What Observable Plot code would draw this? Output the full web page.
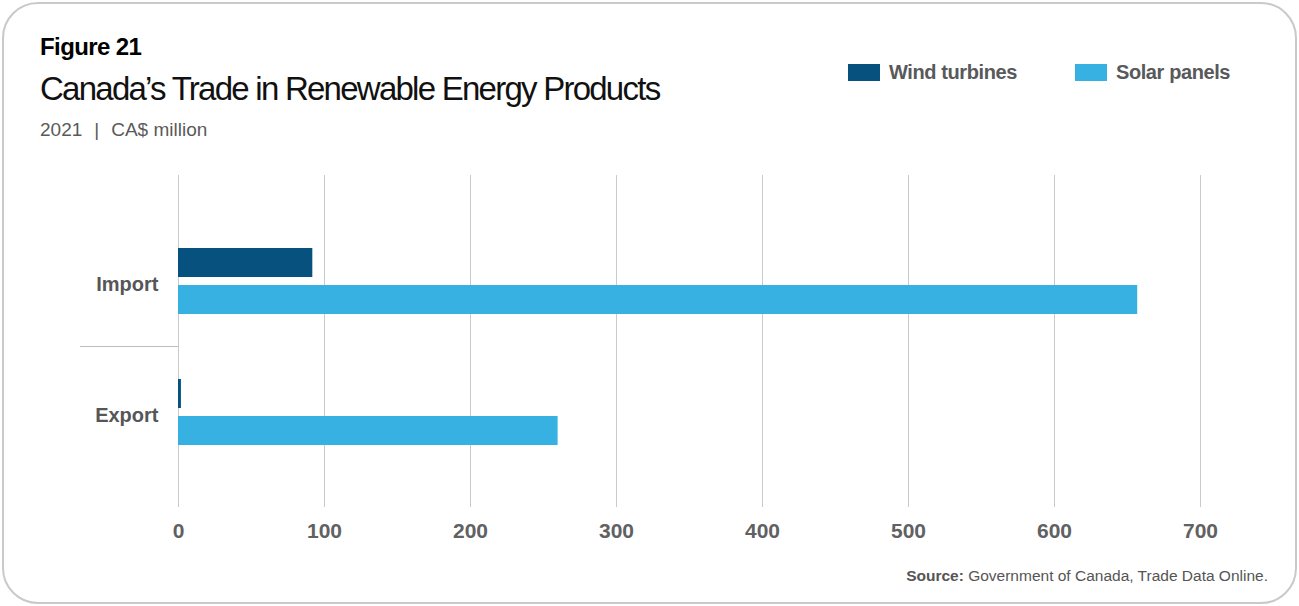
<!DOCTYPE html>
<html>
<head>
<meta charset="utf-8">
<script src="https://cdn.jsdelivr.net/npm/d3@7"></script>
<script src="https://cdn.jsdelivr.net/npm/@observablehq/plot@0.6"></script>
<style>
  body { margin: 0; background: #fff; font-family: "Liberation Sans", Arial, sans-serif; }
  #card { position: relative; width: 1299px; height: 606px; overflow: hidden; }
  #card .frame { position: absolute; left: 2px; top: 2px; right: 2px; bottom: 2px;
    border: 2px solid #c9c9c9; border-radius: 36px; box-sizing: border-box; }
  .hd { position: absolute; left: 40px; white-space: nowrap; line-height: 1; }
  #fig { top: 35px; font-size: 24px; font-weight: bold; color: #000; letter-spacing: -0.6px; }
  #title { top: 72px; font-size: 33px; color: #111; letter-spacing: -1.75px; }
  #sub { top: 120px; font-size: 19px; color: #5a5a5a; letter-spacing: 0; }
  #sub .bar { margin: 0 12px; }
  #legend { position: absolute; top: 62px; left: 848px; display: flex; }
  #legend .item { display: flex; align-items: center; margin-right: 58px; }
  #legend .sw { width: 32px; height: 17px; margin-right: 9px; }
  #legend .lab { font-size: 20px; font-weight: bold; color: #58595b; letter-spacing: -0.4px; line-height: 1; }
  #chart { position: absolute; left: 0; top: 160px; }
  #source { position: absolute; right: 31px; top: 568px; font-size: 15.5px; color: #555; line-height: 1; white-space: nowrap; }
</style>
</head>
<body>
<div id="card">
  <div class="frame"></div>
  <div class="hd" id="fig">Figure 21</div>
  <div class="hd" id="title">Canada’s Trade in Renewable Energy Products</div>
  <div class="hd" id="sub">2021<span class="bar">|</span>CA$ million</div>
  <div id="legend"></div>
  <div id="chart"></div>
  <div id="source"><b>Source:</b> Government of Canada, Trade Data Online.</div>
</div>
<script>
// Trade flows (y groups) and product series
const flows = ["Import", "Export"];
const products = ["Wind turbines", "Solar panels"];
const windTurbines = [92, 2];     // CA$ million, Import / Export
const solarPanels = [657, 260];   // CA$ million, Import / Export
const productColors = ["#07517f", "#36b1e2"];
const xTicks = [0, 100, 200, 300, 400, 500, 600, 700];

const rows = flows.flatMap((flow, i) => [
  {flow, product: products[0], value: windTurbines[i]},
  {flow, product: products[1], value: solarPanels[i]}
]);

// Legend
const legend = document.getElementById("legend");
products.forEach((p, i) => {
  const item = document.createElement("div");
  item.className = "item";
  item.innerHTML = `<div class="sw" style="background:${productColors[i]}"></div><div class="lab">${p}</div>`;
  legend.appendChild(item);
});

const fontFamily = '"Liberation Sans", Arial, sans-serif';

const chart = Plot.plot({
  width: 1299,
  height: 387,
  marginLeft: 178,
  marginRight: 99,
  marginTop: 15,
  marginBottom: 40,
  style: {fontFamily, background: "transparent"},
  x: {domain: [0, 700]},
  y: {domain: flows, paddingInner: 0.5, paddingOuter: 0.508, align: 0.537},
  color: {domain: products, range: productColors},
  marks: [
    Plot.gridX(xTicks, {stroke: "#cacaca", strokeOpacity: 1, strokeWidth: 1}),
    Plot.barX(rows.filter(d => d.product === products[0]), {
      x: "value", y: "flow", fill: "product", insetBottom: 37
    }),
    Plot.barX(rows.filter(d => d.product === products[1]), {
      x: "value", y: "flow", fill: "product", insetTop: 37
    }),
    Plot.axisX(xTicks, {
      tickSize: 0, tickPadding: 16, fontSize: 21, fontWeight: "bold",
      fill: "#606163", label: null
    }),
    Plot.axisY({
      tickSize: 0, tickPadding: 20, dy: 3, fontSize: 20, fontWeight: "bold",
      fill: "#555658", label: null
    })
  ]
});

document.getElementById("chart").appendChild(chart);

// Divider between the Import and Export groups, in the left margin
const y = chart.scale("y");
if (y.apply) {
  const mid = (y.apply(flows[0]) + y.bandwidth + y.apply(flows[1])) / 2;
  d3.select(chart).append("line")
    .attr("x1", 80).attr("x2", 178)
    .attr("y1", mid).attr("y2", mid)
    .attr("stroke", "#bdbdbd").attr("stroke-width", 1.2);
}
</script>
</body>
</html>
